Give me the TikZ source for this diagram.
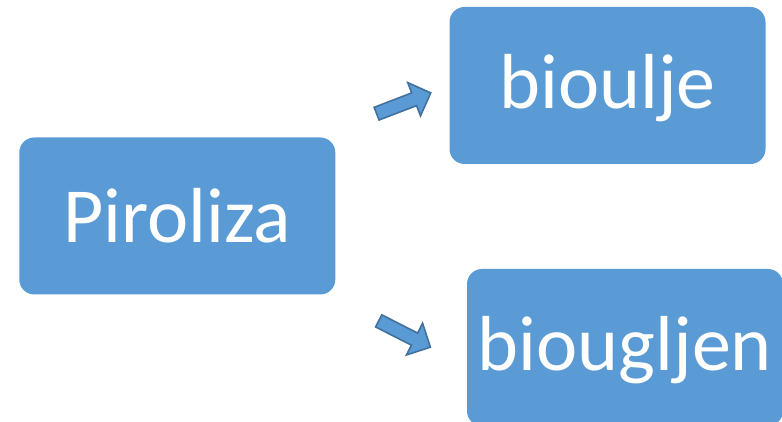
\documentclass[tikz,border=0pt]{standalone}
\usepackage{fontspec}
\setmainfont{Carlito}
\usepackage{tikz}
\usetikzlibrary{shapes.arrows}
\definecolor{boxblue}{HTML}{5B9BD5}
\definecolor{edgeblue}{HTML}{41719C}

\begin{document}
\begin{tikzpicture}[x=1pt,y=1pt,
	box/.style={fill=boxblue,rounded corners=15pt,minimum width=316pt,minimum height=157pt,text=white,font=\fontsize{78}{80}\selectfont},
	arr/.style={single arrow,draw=edgeblue,fill=boxblue,line width=1.6pt,minimum height=58pt,inner sep=6pt,single arrow head extend=11pt}]
	\useasboundingbox (0,0) rectangle (782,422);
	
	\node[box] (p) at (177.3,206) {Piroliza};
	\node[box,text depth=8pt] (b1) at (607.5,336.5) {bioulje};
	\node[box,text depth=8pt] (b2) at (625,74.5) {biougljen};
	
	% block arrows between the boxes
	\node[arr,rotate=21] (a1) at (400.5,317.5) {};
	\node[arr,rotate=-27] (a2) at (401.5,89.5) {};
\end{tikzpicture}
\end{document}
